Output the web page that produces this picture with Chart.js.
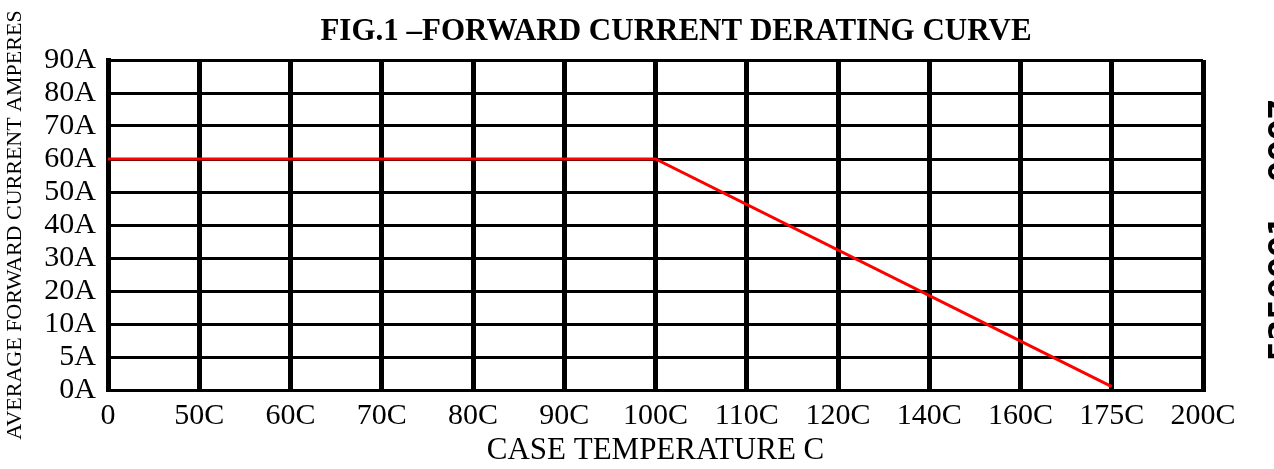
<!DOCTYPE html>
<html>
<head>
<meta charset="utf-8">
<script src="https://cdn.jsdelivr.net/npm/chart.js@4.4.0/dist/chart.umd.min.js"></script>
<style>
  html, body { margin: 0; padding: 0; background: #fff; }
  #wrap { width: 1274px; height: 469px; }
</style>
</head>
<body>
<div id="wrap"><canvas id="derating"></canvas></div>
<script>
// case temperature ticks (evenly spaced on the sheet)
const tempLabels = ['0', '50C', '60C', '70C', '80C', '90C', '100C', '110C', '120C', '140C', '160C', '175C', '200C'];
// current ticks in amperes (also evenly spaced)
const currentTicks = [0, 5, 10, 20, 30, 40, 50, 60, 70, 80, 90];
// derating curve, amperes at each temperature tick (null = no reading)
const curveAmps = [60, null, null, null, null, null, 60, null, null, null, null, 0.5, null];

const titleText = 'FIG.1 \u2013FORWARD CURRENT DERATING CURVE';
const partNo = '5250001 - 0007';

// the current axis is not linear, so place values by tick index
function tickPos(a) {
    if (a === null) return null;
    for (let i = 1; i < currentTicks.length; i++) {
        if (a <= currentTicks[i]) {
            const lo = currentTicks[i - 1], hi = currentTicks[i];
            return i - 1 + (a - lo) / (hi - lo);
        }
    }
    return currentTicks.length - 1;
}

const sheetText = {
    id: 'sheetText',
    afterDraw(chart) {
        const ctx = chart.ctx;
        ctx.save();
        ctx.fillStyle = '#000';
        ctx.font = 'bold 31px "Liberation Serif"';
        ctx.textAlign = 'center';
        ctx.textBaseline = 'alphabetic';
        ctx.fillText(titleText, 676, 40);

        ctx.font = 'bold 30px "DejaVu Sans"';
        ctx.translate(1290, 230);
        ctx.rotate(-Math.PI / 2);
        ctx.fillText(partNo, 0, 0);
        ctx.restore();
    }
};

const serif = '"Liberation Serif", "Times New Roman", serif';

new Chart(document.getElementById('derating'), {
    type: 'line',
    data: {
        labels: tempLabels,
        datasets: [{
            data: curveAmps.map(tickPos),
            borderColor: '#ff0000',
            borderWidth: 3,
            pointRadius: 0,
            spanGaps: true,
            tension: 0
        }]
    },
    options: {
        responsive: true,
        maintainAspectRatio: false,
        animation: false,
        layout: { padding: { top: 60, right: 71, left: 0, bottom: 0 } },
        plugins: {
            legend: { display: false },
            tooltip: { enabled: false }
        },
        scales: {
            x: {
                grid: { color: '#000', lineWidth: 5, drawTicks: false },
                border: { color: '#000', width: 3 },
                ticks: {
                    color: '#000', font: { family: serif, size: 30 },
                    padding: 8, maxRotation: 0, autoSkip: false
                },
                title: {
                    display: true, text: 'CASE TEMPERATURE C', color: '#000',
                    font: { family: serif, size: 31 }, padding: 0
                },
                afterFit(scale) { scale.height = 79; }
            },
            y: {
                min: 0,
                max: currentTicks.length - 1,
                grid: { color: '#000', lineWidth: 3, drawTicks: false },
                border: { color: '#000', width: 5 },
                ticks: {
                    color: '#000', font: { family: serif, size: 30 },
                    stepSize: 1, padding: 12, autoSkip: false,
                    callback: (v) => currentTicks[v] + 'A'
                },
                title: {
                    display: true, text: 'AVERAGE FORWARD CURRENT AMPERES', color: '#000',
                    font: { family: serif, size: 22 }, padding: { top: 2, bottom: 0 }
                },
                afterFit(scale) { scale.width = 108; }
            }
        }
    },
    plugins: [sheetText]
});
</script>
</body>
</html>
